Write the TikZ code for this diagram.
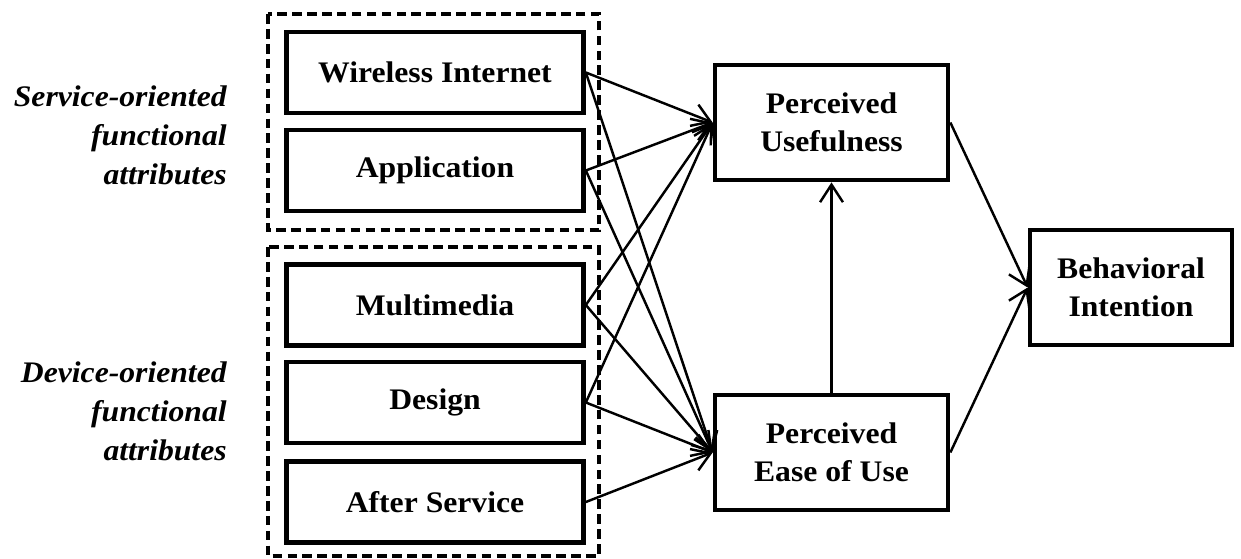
\documentclass[tikz,border=0pt]{standalone}
\usepackage{fontspec}
\setmainfont[FakeStretch=1.06]{Liberation Serif}
\usetikzlibrary{arrows.meta}

\newcommand{\boxfont}{\fontsize{17}{21.6}\selectfont\bfseries}
\newcommand{\grpfont}{\fontsize{17}{22.2}\selectfont\bfseries\itshape}

\tikzset{
  attr/.style={draw, line width=2.7pt, minimum width=5.94cm, minimum height=1.62cm,
    inner sep=0pt, font=\boxfont},
  construct/.style={draw, line width=2.7pt, minimum width=4.66cm, minimum height=2.3cm,
    inner sep=0pt, align=center, font=\boxfont},
  group/.style={draw, line width=1.9pt, dash pattern=on 5.5pt off 3pt},
  grouplabel/.style={anchor=east, align=right, inner sep=0pt, font=\grpfont},
  link/.style={->, line width=1.4pt},
}

\begin{document}
\begin{tikzpicture}[x=0.02cm, y=-0.02cm, >={Straight Barb[length=10pt,width=13pt]}]
\useasboundingbox (0,0) rectangle (1241,558);

%% === Functional attributes ===
% dashed groups
\draw[group] (268,14) rectangle (599,230);
\draw[group] (268,247) rectangle (599,556);
% attribute boxes
\node[attr] (wireless) at (435,72.5) {Wireless Internet};
\node[attr] (app) at (435,170.5) {Application};
\node[attr] (media) at (435,305) {Multimedia};
\node[attr] (design) at (435,402.5) {Design};
\node[attr] (after) at (435,502) {After Service};
% group labels
\node[grouplabel] (service) at (227,135) {Service-oriented\\functional\\attributes};
\node[grouplabel] (device) at (227,411) {Device-oriented\\functional\\attributes};

%% === TAM constructs ===
\node[construct] (pu) at (831.5,122.5) {Perceived\\Usefulness};
\node[construct] (peou) at (831.5,452.5) {Perceived\\Ease of Use};
\node[construct, minimum width=4.04cm] (bi) at (1131,287.5) {Behavioral\\Intention};

%% === Paths ===
\foreach \src in {wireless, app, media, design} {
  \draw[link] (\src.east) -- (pu.west);
}
\foreach \src in {wireless, app, media, design, after} {
  \draw[link] (\src.east) -- (peou.west);
}
\draw[link] (peou.north) -- (pu.south);
\draw[link] (pu.east) -- (bi.west);
\draw[link] (peou.east) -- (bi.west);

\end{tikzpicture}
\end{document}
